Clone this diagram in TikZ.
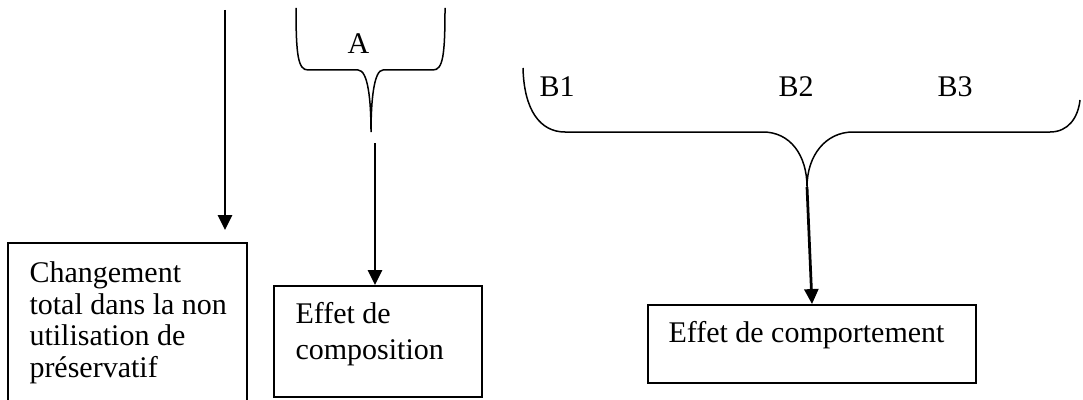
\documentclass[tikz,border=0pt]{standalone}
\usepackage{fontspec}
\setmainfont{Liberation Serif}
\usetikzlibrary{arrows.meta,fit}
\begin{document}
\begin{tikzpicture}[x=0.4pt,y=-0.4pt,
  boxst/.style={draw,line width=0.75pt,inner sep=0pt},
  txt/.style={anchor=base west,inner sep=0pt,font=\fontsize{12}{14}\selectfont},
  bracest/.style={line width=0.6pt},
  arr/.style={line width=1.1pt,-{Triangle[length=6pt,width=5.6pt]}}]
\useasboundingbox (0,0) rectangle (1083,399);
% boxes
\node[boxst,fit={(8,243)(247,440)}] (box1) {};
\node[boxst,fit={(274,286)(482,397)}] (box2) {};
\node[boxst,fit={(648,305)(976,383)}] (box3) {};
% box texts
\node[txt] (t11) at (29,282) {Changement};
\node[txt] (t12) at (29,314) {total dans la non};
\node[txt] (t13) at (29,345.5) {utilisation de};
\node[txt] (t14) at (29,377) {préservatif};
\node[txt] (t21) at (295,323.5) {Effet de};
\node[txt] (t22) at (295,359.5) {composition};
\node[txt] (t31) at (668,342) {Effet de comportement};
% labels
\node[txt] (la) at (347,54) {A};
\node[txt] (lb1) at (539,97) {B1};
\node[txt] (lb2) at (778,97) {B2};
\node[txt] (lb3) at (937,97) {B3};
% brace A
\coordinate (atip) at (371,132);
\draw[bracest] (296,8) .. controls (296,55) and (298,70) .. (308,70) -- (358,70)
  .. controls (368,70) and (371,100) .. (atip)
  .. controls (371,100) and (374,70) .. (383,70) -- (433,70)
  .. controls (443,70) and (445,55) .. (445,8);
% brace B
\coordinate (btip) at (807,187);
\draw[bracest] (523,68) .. controls (524,110) and (540,132) .. (565,132) -- (763,132)
  .. controls (790,132) and (807,155) .. (btip)
  .. controls (807,155) and (826,132) .. (853,132) -- (1050,132)
  .. controls (1068,132) and (1078,118) .. (1080,100);
% arrows
\coordinate (l1) at (225,10);
\coordinate (l2) at (225,230);
\draw[arr] (l1) -- (l2);
\coordinate (a1) at (375,143);
\draw[arr] (a1) -- (a1 |- box2.north);
\coordinate (b2) at (812,305);
\draw[arr] (btip) -- (b2 |- box3.north);
\end{tikzpicture}
\end{document}
